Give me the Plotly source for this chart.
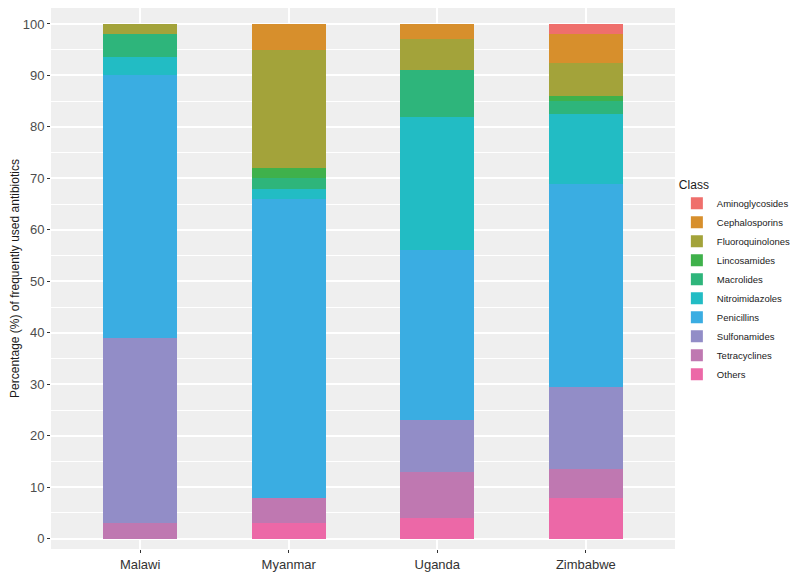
import plotly.graph_objects as go

countries = ["Malawi", "Myanmar", "Uganda", "Zimbabwe"]

# share (%) of each class per country
aminoglycosides = [0, 0, 0, 2]
cephalosporins = [0, 5, 3, 5.5]
fluoroquinolones = [2, 23, 6, 6.5]
lincosamides = [0, 2, 0, 1]
macrolides = [4.5, 2, 9, 2.5]
nitroimidazoles = [3.5, 2, 26, 13.5]
penicillins = [51, 58, 33, 39.5]
sulfonamides = [36, 0, 10, 16]
tetracyclines = [3, 5, 9, 5.5]
others = [0, 3, 4, 8]

# bottom of the stack first
classes = [
    ("Others", others, "#EC68A7"),
    ("Tetracyclines", tetracyclines, "#BF78B1"),
    ("Sulfonamides", sulfonamides, "#928DC7"),
    ("Penicillins", penicillins, "#3AADE2"),
    ("Nitroimidazoles", nitroimidazoles, "#22BCC4"),
    ("Macrolides", macrolides, "#2EB57B"),
    ("Lincosamides", lincosamides, "#3FB14B"),
    ("Fluoroquinolones", fluoroquinolones, "#A3A33A"),
    ("Cephalosporins", cephalosporins, "#D78F2C"),
    ("Aminoglycosides", aminoglycosides, "#EF6F6C"),
]

fig = go.Figure()
for name, vals, col in classes:
    fig.add_trace(go.Bar(x=countries, y=vals, name=name, width=0.5,
                         marker=dict(color=col, line=dict(width=0))))

font = "Liberation Sans, Arial, sans-serif"
fig.update_layout(
    width=800, height=585,
    barmode="stack",
    bargap=0,
    plot_bgcolor="#EFEFEF",
    paper_bgcolor="white",
    font=dict(family=font, size=12, color="#4D4D4D"),
    margin=dict(l=37, r=133, t=0, b=44),
    legend=dict(traceorder="reversed", x=1.003, xanchor="left", y=0.495, yanchor="middle",
                title=dict(text="Class", font=dict(size=12, color="#1A1A1A")),
                font=dict(size=9.5, color="#1A1A1A"), itemwidth=30,
                tracegroupgap=0),
    showlegend=True,
)
fig.update_xaxes(showgrid=True, gridcolor="white", gridwidth=1.5, ticks="outside",
                 ticklen=3, tickcolor="#333333", showline=False,
                 range=[-0.6, 3.6], tickfont=dict(size=13, color="#333333"))
fig.update_yaxes(range=[-2, 103.1], tickvals=list(range(0, 101, 10)), showgrid=True,
                 gridcolor="white", gridwidth=1.5, ticks="outside", ticklen=3,
                 tickcolor="#333333", zeroline=False,
                 minor=dict(tickvals=list(range(5, 101, 10)), showgrid=True,
                            gridcolor="white", gridwidth=0.7),
                 tickfont=dict(size=13, color="#4D4D4D"),
                 title=dict(text="Percentage (%) of frequently used antibiotics",
                            font=dict(size=12, color="#1A1A1A"), standoff=6))

fig.write_html("out.html")
